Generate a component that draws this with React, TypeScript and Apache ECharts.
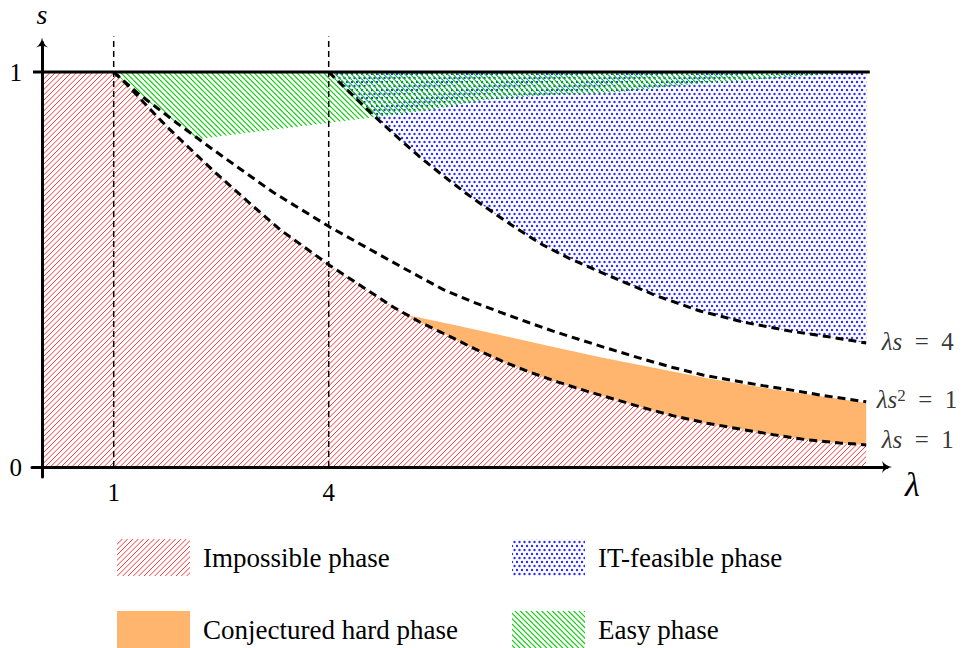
import React, { useEffect, useRef } from 'react';
import * as echarts from 'echarts';

// ---- data (λ position, s) ----
const lambdaTicks = [1, 4];
const sTicks = [0, 1];
const phaseMarks = [1, 4];

// λs = 1 (boundary of the impossible phase)
const lowerCurve = [
  [1.0, 1.0], [1.19, 0.967], [1.47, 0.913], [1.74, 0.862], [2.07, 0.805], [2.39, 0.75],
  [2.86, 0.674], [3.32, 0.601], [4.01, 0.511], [4.9, 0.405], [5.27, 0.367], [5.65, 0.334],
  [6.04, 0.299], [6.42, 0.268], [6.81, 0.24], [7.2, 0.215], [7.6, 0.192], [8.02, 0.17],
  [8.39, 0.15], [8.8, 0.13], [9.28, 0.111], [9.74, 0.096], [10.2, 0.082], [10.67, 0.069],
  [11.13, 0.061], [11.5, 0.056],
];
// λs² = 1
const middleCurve = [
  [1.0, 1.0], [1.33, 0.947], [1.88, 0.871], [2.39, 0.803], [3.22, 0.696], [4.01, 0.608],
  [5.04, 0.504], [5.6, 0.449], [6.01, 0.418], [6.39, 0.392], [6.77, 0.367], [7.13, 0.344],
  [7.51, 0.322], [7.88, 0.301], [8.39, 0.273], [8.8, 0.252], [9.22, 0.233], [9.64, 0.219],
  [10.06, 0.206], [10.48, 0.194], [10.9, 0.181], [11.5, 0.165],
];
// λs = 4 (boundary of the IT-feasible phase)
const feasibleCurve = [
  [4.0, 1.0], [4.33, 0.942], [4.65, 0.886], [4.97, 0.833], [5.27, 0.785], [5.6, 0.737],
  [5.93, 0.691], [6.28, 0.646], [6.63, 0.603], [6.99, 0.562], [7.37, 0.527], [7.76, 0.496],
  [8.16, 0.465], [8.58, 0.433], [9.18, 0.395], [9.78, 0.367], [10.44, 0.344], [11.0, 0.329],
  [11.5, 0.314],
];
// upper edge of the conjectured hard phase
const hardTop = [
  [5.09, 0.385], [5.69, 0.362], [6.39, 0.334], [7.09, 0.306], [7.79, 0.278], [8.48, 0.253],
  [9.28, 0.225], [10.2, 0.197], [11.13, 0.172], [11.5, 0.162],
];
// lower edge of the easy phase
const easyBottom = [
  [1.0, 1.0], [1.33, 0.947], [1.88, 0.871], [2.16, 0.83], [4.58, 0.884], [5.41, 0.904],
  [6.15, 0.929], [7.09, 0.942], [8.02, 0.949], [8.94, 0.967], [9.88, 0.98], [10.81, 0.992],
  [11.27, 0.997], [11.5, 1.0],
];
const curveLabels = [
  '{m|λs}{n|\u2002=\u20024}',
  '{m|λs}{sup|2}{n|\u2002=\u20021}',
  '{m|λs}{n|\u2002=\u20021}',
];
const legendNames = ['Impossible phase', 'Conjectured hard phase', 'IT-feasible phase', 'Easy phase'];

// ---- layout / style ----
const X_MIN = -0.14, X_MAX = 11.79, Y_MIN = -0.025, Y_MAX = 1.075;
const TOP_EXT = 1.09;
const FONT = 'Liberation Serif';
const ARROW = 'path://M6,0 C6.6,4 8.5,7.5 12,10 C9,9 7.5,8.6 6,8.6 C4.5,8.6 3,9 0,10 C3.5,7.5 5.4,4 6,0 Z';

function hatch(color: string, dir: string, size: number, count: number, width: number) {
  const c = document.createElement('canvas');
  c.width = size; c.height = size;
  const ctx = c.getContext('2d')!;
  ctx.strokeStyle = color; ctx.lineWidth = width;
  const step = size / count;
  for (let a = -size; a <= size + 0.01; a += step) {
    ctx.beginPath();
    if (dir === '/') { ctx.moveTo(a, size); ctx.lineTo(a + size, 0); }
    else { ctx.moveTo(a, 0); ctx.lineTo(a + size, size); }
    ctx.stroke();
  }
  return { image: c.toDataURL(), repeat: 'repeat', imageWidth: size, imageHeight: size };
}

function dots(color: string, w: number, h: number, r: number, pts: number[][]) {
  const c = document.createElement('canvas');
  c.width = w; c.height = h;
  const ctx = c.getContext('2d')!;
  ctx.fillStyle = color;
  pts.forEach(([x, y]) => { ctx.beginPath(); ctx.arc(x, y, r, 0, Math.PI * 2); ctx.fill(); });
  return { image: c.toDataURL(), repeat: 'repeat', imageWidth: w, imageHeight: h };
}

function region(name: string, pts: number[][], fill: any, z: number) {
  return {
    type: 'custom', name, coordinateSystem: 'cartesian2d', z, silent: true, clip: false,
    data: pts, encode: { x: 0, y: 1 },
    renderItem: (params: any, api: any) => {
      if (params.dataIndex !== 0) return null;
      return {
        type: 'polygon',
        shape: { points: pts.map((p) => api.coord(p)) },
        style: { fill, stroke: 'none' },
      };
    },
  };
}

function dashed(name: string, pts: number[][]) {
  return {
    type: 'line', name, data: pts, z: 5, symbol: 'none', silent: true, clip: false,
    lineStyle: { color: '#000', width: 3, type: [8, 5] },
  };
}

export default function App() {
  const ref = useRef<HTMLDivElement>(null);
  useEffect(() => {
    const chart = echarts.init(ref.current!, null, { renderer: 'svg' });
    const redFill = hatch('rgba(255,20,20,0.95)', '/', 16, 3, 0.9);
    const greenFill = hatch('rgba(0,205,0,1)', '\\', 16, 3, 1.1);
    const blueFill = dots('#2d2dff', 10, 8, 1.2, [[2, 2], [7, 2], [4.5, 6], [9.5, 6], [-0.5, 6]]);
    const orangeFill = '#FFB56E';

    const lowerEnd = lowerCurve[lowerCurve.length - 1];
    const redPts = [[0, 1], ...lowerCurve, [lowerEnd[0], 0], [0, 0]];
    const orangePts = [...hardTop, ...lowerCurve.filter((p) => p[0] > hardTop[0][0]).reverse()];
    const bluePts = [...feasibleCurve, [feasibleCurve[feasibleCurve.length - 1][0], 1]];
    const greenPts = [...easyBottom];

    const endPoints = [feasibleCurve, middleCurve, lowerCurve].map((c) => c[c.length - 1]);
    const labelOffsets = [[0, -1], [0, -2], [0, -5]];
    const labelDistances = [15, 10, 15];

    const axisText = { color: '#000', fontFamily: FONT, fontSize: 25 };

    const legendItems: any[] = [];
    const fills = [redFill, orangeFill, blueFill, greenFill];
    const lx = [117, 117, 512, 512];
    const ly = [539, 611, 539, 611];
    legendNames.forEach((n, i) => {
      legendItems.push({ type: 'rect', shape: { x: lx[i], y: ly[i], width: 73, height: 37 }, style: { fill: fills[i] } });
      legendItems.push({
        type: 'text', x: lx[i] + 86, y: ly[i] + 18.5,
        style: { text: n, fill: '#000', font: '27px Liberation Serif', fontFamily: FONT, fontSize: 27, verticalAlign: 'middle', align: 'left' },
      });
    });

    const option: any = {
      animation: false,
      backgroundColor: '#fff',
      textStyle: { fontFamily: FONT },
      grid: { left: 32, top: 42.375, width: 855, height: 434.5, containLabel: false, outerBoundsMode: 'none' },
      xAxis: {
        type: 'value', min: X_MIN, max: X_MAX, z: 10,
        axisLine: { onZero: true, symbol: ['none', ARROW], symbolSize: [12, 11], lineStyle: { color: '#000', width: 3 } },
        axisTick: { show: false }, splitLine: { show: false },
        axisLabel: { ...axisText, customValues: lambdaTicks, margin: 3 },
        name: 'λ', nameLocation: 'end', nameGap: 18,
        nameTextStyle: { color: '#000', fontFamily: FONT, fontStyle: 'italic', fontSize: 34, verticalAlign: 'top', padding: [0, 0, 0, 0] },
      },
      yAxis: {
        type: 'value', min: Y_MIN, max: Y_MAX, z: 10,
        axisLine: { onZero: true, symbol: ['none', ARROW], symbolSize: [12, 11], lineStyle: { color: '#000', width: 3 } },
        axisTick: { show: false }, splitLine: { show: false },
        axisLabel: { ...axisText, customValues: sTicks, margin: 10 },
        name: 's', nameLocation: 'end', nameGap: 14,
        nameTextStyle: { color: '#000', fontFamily: FONT, fontStyle: 'italic', fontSize: 28, align: 'center' },
      },
      graphic: legendItems,
      series: [
        region(legendNames[0], redPts, redFill, 1),
        region(legendNames[1], orangePts, orangeFill, 1),
        region(legendNames[2], bluePts, blueFill, 1),
        region(legendNames[3], greenPts, greenFill, 2),
        dashed('λs = 1', lowerCurve),
        dashed('λs² = 1', middleCurve),
        dashed('λs = 4', feasibleCurve),
        ...phaseMarks.map((m) => ({
          type: 'line', name: 'λ = ' + m, data: [[m, 0], [m, TOP_EXT]], symbol: 'none', silent: true, clip: false, z: 4,
          lineStyle: { color: '#000', width: 1.5, type: [6, 4] },
        })),
        {
          type: 'line', name: 's = 1', data: [[-0.126, 1], [11.55, 1]], symbol: 'none', silent: true, clip: false, z: 6,
          lineStyle: { color: '#000', width: 3 },
        },
        {
          type: 'scatter', name: 'labels', silent: true, z: 7, symbol: 'circle', symbolSize: 1,
          itemStyle: { color: 'transparent' },
          data: endPoints.map((p, i) => ({
            value: p,
            label: {
              show: true, position: 'right', distance: labelDistances[i], offset: labelOffsets[i],
              formatter: curveLabels[i],
              rich: {
                m: { fontFamily: FONT, fontStyle: 'italic', fontSize: 25, color: '#000', lineHeight: 26 },
                n: { fontFamily: FONT, fontSize: 25, color: '#000', lineHeight: 26 },
                sup: { fontFamily: FONT, fontSize: 17, color: '#000', verticalAlign: 'top', lineHeight: 17 },
              },
            },
          })),
        },
      ],
    };
    chart.setOption(option);
    return () => chart.dispose();
  }, []);
  return <div ref={ref} style={{ position: 'fixed', left: 0, top: 0, width: 963, height: 648, background: '#fff' }} />;
}
